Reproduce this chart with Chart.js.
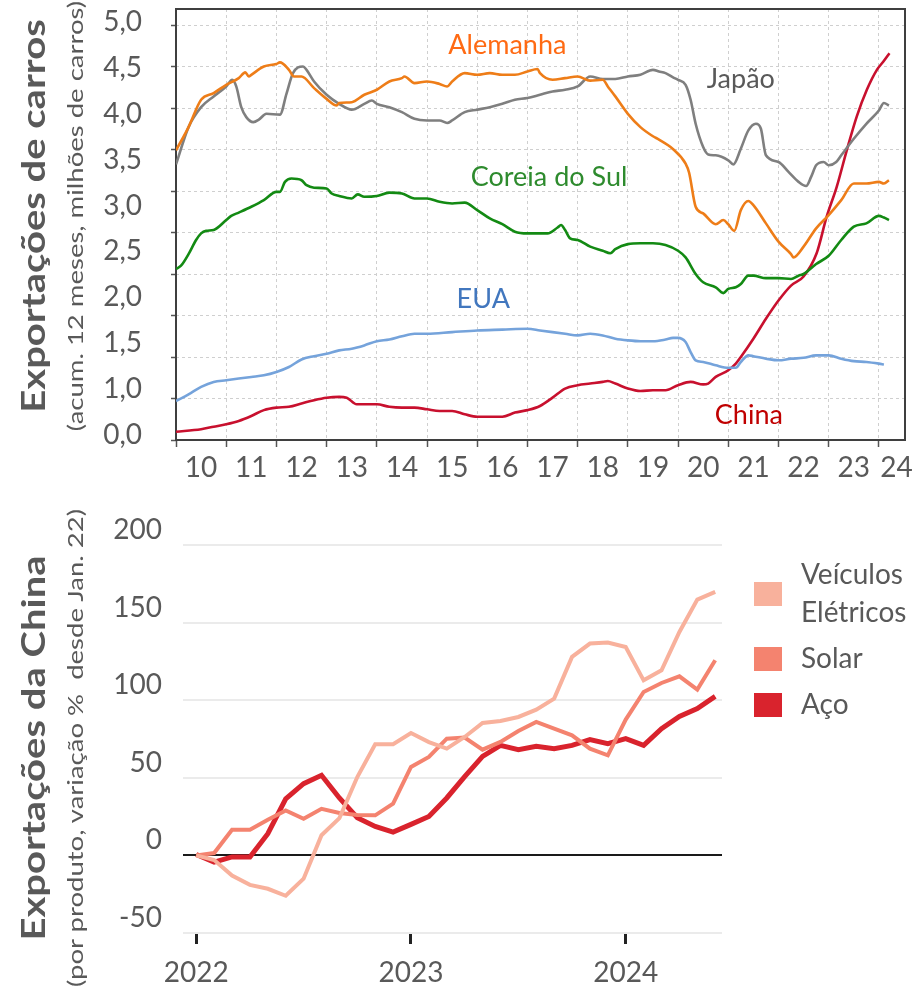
<!DOCTYPE html>
<html>
<head>
<meta charset="utf-8">
<script src="https://cdn.jsdelivr.net/npm/chart.js@4.4.1/dist/chart.umd.min.js"></script>
<style>
  body { margin: 0; background: #fff; }
  #page { position: relative; width: 917px; height: 986px; overflow: hidden; }
  canvas { position: absolute; left: 0; }
  #carros { top: 0; }
  #china { top: 480px; }
  .vtitle { position: absolute; transform: translate(-50%, -50%) rotate(-90deg) scaleX(1.25); white-space: nowrap; color: #595959; font-family: Lato, sans-serif; line-height: 1; }
  .big { font-weight: bold; font-size: 32px; }
  .small { font-size: 22px; }
</style>
</head>
<body>
<div id="page">
  <canvas id="carros" width="917" height="480"></canvas>
  <canvas id="china" width="917" height="506"></canvas>
  <div class="vtitle big" style="left:33px; top:216px">Exportações de carros</div>
  <div class="vtitle small" style="left:75px; top:216px">(acum. 12 meses, milhões de carros)</div>
  <div class="vtitle big" style="left:33px; top:748px">Exportações da China</div>
  <div class="vtitle small" style="left:75px; top:748px">(por produto, variação %&nbsp; desde Jan. 22)</div>
</div>
<script>
// ---- top chart: car exports, 12-month sum, millions ----
const yLabels = ['0,0', '1,0', '1,5', '2,0', '2,5', '3,0', '3,5', '4,0', '4,5', '5,0'];
const xLabels = ['10', '11', '12', '13', '14', '15', '16', '17', '18', '19', '20', '21', '22', '23', '24'];
const countries = ['Alemanha', 'Japão', 'Coreia do Sul', 'EUA', 'China'];

const alemanha = [[2010.0, 3.49], [2010.25, 3.77], [2010.5, 4.10], [2010.75, 4.18], [2011.0, 4.28], [2011.25, 4.36],
  [2011.38, 4.43], [2011.45, 4.38], [2011.5, 4.40], [2011.75, 4.50], [2012.0, 4.53], [2012.07, 4.55], [2012.25, 4.46],
  [2012.35, 4.38], [2012.5, 4.38], [2012.75, 4.24], [2013.0, 4.11], [2013.2, 4.03], [2013.25, 4.06], [2013.5, 4.07],
  [2013.75, 4.16], [2014.0, 4.22], [2014.25, 4.32], [2014.5, 4.36], [2014.55, 4.38], [2014.75, 4.30], [2015.0, 4.32],
  [2015.25, 4.29], [2015.4, 4.26], [2015.5, 4.32], [2015.75, 4.42], [2016.0, 4.40], [2016.25, 4.42], [2016.5, 4.40],
  [2016.75, 4.40], [2017.0, 4.44], [2017.2, 4.47], [2017.25, 4.42], [2017.5, 4.34], [2017.75, 4.36], [2018.0, 4.38],
  [2018.25, 4.33], [2018.5, 4.34], [2018.6, 4.26], [2018.75, 4.14], [2019.0, 3.93], [2019.25, 3.77], [2019.5, 3.66],
  [2019.62, 3.62], [2019.89, 3.51], [2020.15, 3.33], [2020.22, 3.22], [2020.35, 2.81], [2020.5, 2.73], [2020.75, 2.60],
  [2020.9, 2.65], [2021.0, 2.60], [2021.12, 2.52], [2021.25, 2.77], [2021.4, 2.88], [2021.5, 2.83], [2021.75, 2.61],
  [2022.0, 2.39], [2022.25, 2.24], [2022.3, 2.20], [2022.5, 2.33], [2022.75, 2.55], [2023.0, 2.71], [2023.25, 2.89],
  [2023.5, 3.09], [2023.75, 3.09], [2024.0, 3.11], [2024.1, 3.09], [2024.2, 3.13]];

const japao = [[2010.0, 3.32], [2010.25, 3.77], [2010.5, 4.01], [2010.75, 4.14], [2011.0, 4.26], [2011.12, 4.34],
  [2011.2, 4.26], [2011.3, 4.01], [2011.4, 3.89], [2011.54, 3.83], [2011.65, 3.86], [2011.8, 3.93], [2012.07, 3.92],
  [2012.2, 4.17], [2012.33, 4.42], [2012.53, 4.50], [2012.6, 4.46], [2012.75, 4.32], [2013.0, 4.16], [2013.25, 4.05],
  [2013.5, 3.98], [2013.75, 4.05], [2013.9, 4.09], [2014.0, 4.05], [2014.25, 4.01], [2014.5, 3.95], [2014.75, 3.87],
  [2015.0, 3.85], [2015.25, 3.85], [2015.4, 3.82], [2015.5, 3.85], [2015.75, 3.95], [2016.0, 3.98], [2016.25, 4.01],
  [2016.5, 4.05], [2016.75, 4.10], [2017.0, 4.12], [2017.25, 4.16], [2017.5, 4.20], [2017.75, 4.22], [2018.0, 4.26],
  [2018.25, 4.38], [2018.5, 4.35], [2018.75, 4.35], [2019.0, 4.38], [2019.25, 4.40], [2019.5, 4.46], [2019.62, 4.44],
  [2019.75, 4.42], [2019.9, 4.37], [2020.0, 4.34], [2020.15, 4.28], [2020.25, 4.10], [2020.35, 3.81], [2020.5, 3.53],
  [2020.6, 3.44], [2020.75, 3.43], [2021.0, 3.37], [2021.1, 3.32], [2021.25, 3.51], [2021.4, 3.73], [2021.55, 3.81],
  [2021.65, 3.75], [2021.75, 3.43], [2022.0, 3.35], [2022.2, 3.23], [2022.4, 3.11], [2022.55, 3.06], [2022.65, 3.17],
  [2022.75, 3.31], [2022.9, 3.35], [2023.0, 3.31], [2023.15, 3.35], [2023.25, 3.43], [2023.5, 3.63], [2023.75, 3.81],
  [2024.0, 3.97], [2024.1, 4.06], [2024.2, 4.03]];

const coreia = [[2010.0, 2.06], [2010.1, 2.10], [2010.25, 2.24], [2010.4, 2.41], [2010.5, 2.49], [2010.6, 2.52],
  [2010.75, 2.53], [2011.0, 2.65], [2011.1, 2.70], [2011.25, 2.74], [2011.5, 2.81], [2011.75, 2.89], [2012.0, 2.99],
  [2012.07, 2.99], [2012.17, 3.11], [2012.3, 3.15], [2012.5, 3.13], [2012.6, 3.07], [2012.75, 3.04], [2013.0, 3.03],
  [2013.1, 2.97], [2013.25, 2.94], [2013.5, 2.91], [2013.62, 2.96], [2013.75, 2.93], [2014.0, 2.94], [2014.25, 2.98],
  [2014.5, 2.97], [2014.75, 2.91], [2015.0, 2.91], [2015.25, 2.87], [2015.5, 2.85], [2015.75, 2.86], [2016.0, 2.77],
  [2016.25, 2.67], [2016.5, 2.60], [2016.75, 2.51], [2017.0, 2.49], [2017.25, 2.49], [2017.4, 2.49], [2017.6, 2.56],
  [2017.67, 2.59], [2017.75, 2.53], [2017.85, 2.43], [2018.0, 2.41], [2018.25, 2.33], [2018.5, 2.28], [2018.65, 2.25],
  [2018.75, 2.30], [2019.0, 2.36], [2019.25, 2.37], [2019.5, 2.37], [2019.75, 2.35], [2020.0, 2.28], [2020.15, 2.20],
  [2020.35, 2.00], [2020.5, 1.90], [2020.75, 1.84], [2020.9, 1.77], [2021.0, 1.82], [2021.15, 1.84], [2021.25, 1.88],
  [2021.4, 1.98], [2021.5, 1.98], [2021.75, 1.95], [2022.0, 1.95], [2022.25, 1.94], [2022.4, 1.98], [2022.5, 2.00],
  [2022.75, 2.12], [2023.0, 2.22], [2023.25, 2.41], [2023.5, 2.57], [2023.75, 2.61], [2024.0, 2.70], [2024.1, 2.68],
  [2024.2, 2.65]];

const eua = [[2010.0, 0.47], [2010.25, 0.55], [2010.5, 0.64], [2010.75, 0.70], [2011.0, 0.72], [2011.25, 0.74],
  [2011.5, 0.76], [2011.75, 0.78], [2012.0, 0.82], [2012.25, 0.88], [2012.5, 0.97], [2012.75, 1.01], [2013.0, 1.04],
  [2013.25, 1.08], [2013.5, 1.10], [2013.75, 1.14], [2014.0, 1.19], [2014.25, 1.21], [2014.5, 1.25], [2014.75, 1.28],
  [2015.0, 1.28], [2015.5, 1.30], [2016.0, 1.32], [2016.5, 1.33], [2017.0, 1.34], [2017.25, 1.32], [2017.5, 1.30],
  [2017.75, 1.28], [2018.0, 1.26], [2018.25, 1.28], [2018.5, 1.26], [2018.75, 1.22], [2019.0, 1.20], [2019.25, 1.19],
  [2019.5, 1.19], [2019.75, 1.21], [2019.9, 1.23], [2020.0, 1.23], [2020.15, 1.18], [2020.25, 1.06], [2020.35, 0.96],
  [2020.5, 0.94], [2020.75, 0.90], [2021.0, 0.87], [2021.15, 0.87], [2021.25, 0.94], [2021.4, 1.02], [2021.5, 1.01],
  [2021.75, 0.98], [2022.0, 0.96], [2022.25, 0.98], [2022.5, 0.99], [2022.75, 1.02], [2023.0, 1.02], [2023.25, 0.98],
  [2023.5, 0.95], [2023.75, 0.94], [2024.0, 0.92], [2024.1, 0.91]];

const china = [[2010.0, 0.10], [2010.5, 0.13], [2010.75, 0.16], [2011.0, 0.19], [2011.25, 0.23], [2011.5, 0.29],
  [2011.75, 0.36], [2012.0, 0.39], [2012.25, 0.40], [2012.5, 0.44], [2012.75, 0.48], [2013.0, 0.51], [2013.25, 0.52],
  [2013.4, 0.51], [2013.6, 0.43], [2013.75, 0.43], [2014.0, 0.43], [2014.25, 0.40], [2014.5, 0.39], [2014.75, 0.39],
  [2015.0, 0.37], [2015.25, 0.35], [2015.5, 0.35], [2015.75, 0.31], [2016.0, 0.28], [2016.25, 0.28], [2016.5, 0.28],
  [2016.75, 0.33], [2017.0, 0.36], [2017.25, 0.41], [2017.5, 0.51], [2017.75, 0.62], [2018.0, 0.66], [2018.25, 0.68],
  [2018.5, 0.70], [2018.6, 0.71], [2018.75, 0.68], [2019.0, 0.62], [2019.25, 0.59], [2019.5, 0.60], [2019.75, 0.60],
  [2020.0, 0.66], [2020.25, 0.70], [2020.5, 0.67], [2020.6, 0.68], [2020.75, 0.76], [2021.0, 0.84], [2021.15, 0.92],
  [2021.25, 1.00], [2021.5, 1.22], [2021.75, 1.46], [2022.0, 1.68], [2022.25, 1.86], [2022.5, 1.97], [2022.76, 2.25],
  [2022.96, 2.69], [2023.16, 3.05], [2023.36, 3.49], [2023.56, 3.90], [2023.76, 4.22], [2023.96, 4.46], [2024.09, 4.56],
  [2024.21, 4.66]];

// ---- bottom chart: China exports by product, % change since Jan 22 (monthly from Jan 22) ----
const yearLabels = ['2022', '2023', '2024'];
const products = ['Veículos Elétricos', 'Solar', 'Aço'];
const veiculos = [0, -3, -13, -19, -21.5, -26, -15, 13, 24, 50.5, 71.6, 71.6, 78.9, 73, 68.8,
  76.3, 85.3, 86.6, 89.2, 93.9, 101, 127.9, 136.5, 137.1, 134.3, 112.8, 119.3, 144, 164.8, 169.8];
const solar = [0, 1.5, 16.5, 16.5, 23, 29, 23.6, 30, 27.3, 26, 25.8, 33.3, 57, 63.4, 75.2,
  75.9, 68.1, 73.1, 80.2, 86, 81.7, 77.4, 68.8, 64.5, 87.5, 105.3, 111.1, 115.4, 106.8, 125.7];
const aco = [0.6, -4.3, -1, -1, 14, 36.5, 46.2, 51.6, 37, 24.3, 18.7, 15, 20, 25.1, 37,
  50.7, 63.8, 70.9, 68.1, 70.3, 68.8, 70.9, 74.6, 72, 75.2, 70.9, 81.7, 89.6, 94.6, 102.5];

Chart.defaults.font.family = 'Lato, sans-serif';
Chart.defaults.color = '#595959';

const toPoints = arr => arr.map(p => ({ x: p[0], y: p[1] }));
// stop chart.js from reserving room for half-labels at the axis ends
const noEdgePad = s => { s.paddingTop = 0; s.paddingBottom = 0; s.paddingLeft = 0; s.paddingRight = 0; };

const lineColors = ['#EE7D18', '#7F7F7F', '#138A13', '#75A3DB', '#C8102E'];
const tagColors = ['#FF6A13', '#595959', '#2E8B2E', '#4277BE', '#C00000'];
// where each name sits, in data units (year, millions)
const tagSpots = [[2016.6, 4.76], [2021.25, 4.34], [2017.43, 3.17], [2016.12, 1.70], [2021.41, 0.30]];

const frame = {
  id: 'frame',
  beforeDatasetsDraw(chart) {
    const a = chart.chartArea, ctx = chart.ctx;
    ctx.save();
    ctx.strokeStyle = '#3f3f3f';
    ctx.lineWidth = 2;
    ctx.strokeRect(a.left, a.top, a.right - a.left, a.bottom - a.top);
    ctx.restore();
  }
};

const seriesTags = {
  id: 'seriesTags',
  afterDatasetsDraw(chart) {
    const ctx = chart.ctx, x = chart.scales.x, y = chart.scales.y;
    ctx.save();
    ctx.font = '27px Lato';
    ctx.textAlign = 'center';
    ctx.textBaseline = 'middle';
    chart.data.datasets.forEach((ds, i) => {
      ctx.fillStyle = tagColors[i];
      ctx.fillText(ds.label, x.getPixelForValue(tagSpots[i][0]), y.getPixelForValue(tagSpots[i][1]));
    });
    ctx.restore();
  }
};

const series = [alemanha, japao, coreia, eua, china];

new Chart(document.getElementById('carros'), {
  type: 'line',
  data: {
    datasets: series.map((s, i) => ({
      label: countries[i],
      data: toPoints(s),
      borderColor: lineColors[i],
      borderWidth: 2.6,
      pointRadius: 0,
      cubicInterpolationMode: 'monotone'
    }))
  },
  options: {
    responsive: false,
    animation: false,
    layout: { padding: { top: 9, right: 12, left: 0, bottom: 0 } },
    plugins: { legend: { display: false }, tooltip: { enabled: false } },
    scales: {
      x: {
        type: 'linear', position: 'bottom', weight: 0,
        min: 2010, max: 2024.52,
        grid: { color: '#cfcfcf', lineWidth: 1, tickLength: 7, tickColor: '#555', tickWidth: 1.5, tickBorderDash: [] },
        border: { display: false, dash: [3, 3] },
        ticks: { display: false, stepSize: 1, includeBounds: false },
        afterFit(s) { s.height = 7; noEdgePad(s); }
      },
      xl: {
        type: 'linear', position: 'bottom', weight: 1,
        min: 2010, max: 2024.52,
        grid: { display: false },
        border: { display: false },
        afterBuildTicks(s) {
          s.ticks = xLabels.map((_, i) => ({ value: Math.min(2010.5 + i, 2024.35) }));
        },
        ticks: {
          autoSkip: false, maxRotation: 0, padding: -4,
          font: { size: 28 }, color: '#595959',
          callback: (v, i) => xLabels[i]
        },
        afterFit(s) { s.height = 33; noEdgePad(s); }
      },
      y: {
        type: 'linear', position: 'left', weight: 0,
        min: 0, max: 5.193,
        grid: { color: '#cfcfcf', lineWidth: 1, tickLength: 5, tickColor: '#555', tickWidth: 1.5, tickBorderDash: [] },
        border: { display: false, dash: [3, 3] },
        ticks: { display: false, stepSize: 0.5, includeBounds: false },
        afterFit(s) { s.width = 0; noEdgePad(s); }
      },
      yl: {
        type: 'linear', position: 'left', weight: 1,
        min: -0.109, max: 9.283,
        grid: { display: false },
        border: { display: false },
        afterBuildTicks(s) {
          s.ticks = yLabels.map((_, i) => ({ value: i }));
        },
        ticks: {
          autoSkip: false, padding: 26,
          font: { size: 28 }, color: '#595959',
          callback: (v, i) => yLabels[i]
        },
        afterFit(s) { s.width = 176; noEdgePad(s); }
      }
    }
  },
  plugins: [frame, seriesTags]
});

// ---- bottom chart ----
const productColors = ['#F8B19C', '#F4836F', '#D9232D'];
const productWidths = [4, 4, 5];

const sideLegend = {
  id: 'sideLegend',
  afterDraw(chart) {
    const ctx = chart.ctx, a = chart.chartArea;
    const lineH = 38, gap = 8, boxW = 28, boxH = 24;
    const boxX = a.right + 32, textX = boxX + 47;
    ctx.save();
    ctx.font = '28px Lato';
    ctx.textBaseline = 'middle';
    ctx.textAlign = 'left';
    let top = 76;
    chart.data.datasets.forEach(ds => {
      // wrap long names word by word
      const words = ds.label.split(' ');
      const lines = [];
      words.forEach(w => {
        const last = lines[lines.length - 1];
        if (last && ctx.measureText(last + ' ' + w).width < 115) lines[lines.length - 1] = last + ' ' + w;
        else lines.push(w);
      });
      const h = lines.length * lineH;
      const mid = top + h / 2;
      ctx.fillStyle = ds.borderColor;
      ctx.fillRect(boxX, mid - boxH / 2, boxW, boxH);
      ctx.fillStyle = '#595959';
      lines.forEach((t, k) => ctx.fillText(t, textX, top + lineH / 2 + k * lineH));
      top += h + gap;
    });
    ctx.restore();
  }
};

const monthIdx = veiculos.map((_, i) => i);

new Chart(document.getElementById('china'), {
  type: 'line',
  data: {
    datasets: [veiculos, solar, aco].map((s, i) => ({
      label: products[i],
      data: s.map((v, k) => ({ x: monthIdx[k], y: v })),
      borderColor: productColors[i],
      borderWidth: productWidths[i],
      pointRadius: 0,
      tension: 0
    }))
  },
  options: {
    responsive: false,
    animation: false,
    layout: { padding: { top: 65, right: 195, left: 0, bottom: 0 } },
    plugins: { legend: { display: false }, tooltip: { enabled: false } },
    scales: {
      x: {
        type: 'linear', position: 'bottom',
        min: -0.74, max: 29.38,
        grid: { drawOnChartArea: false, drawTicks: true, tickLength: 11, tickColor: '#222', tickWidth: 3 },
        border: { display: false },
        afterBuildTicks(s) {
          s.ticks = yearLabels.map((_, i) => ({ value: i * 12 }));
        },
        ticks: {
          autoSkip: false, maxRotation: 0, padding: 12,
          font: { size: 28 }, color: '#595959',
          callback: (v, i) => yearLabels[i]
        },
        afterFit(s) { s.height = 53; noEdgePad(s); }
      },
      y: {
        type: 'linear', position: 'left',
        min: -50, max: 200,
        grid: {
          drawTicks: false,
          color: c => (c.tick && c.tick.value === 0 ? '#1a1a1a' : '#ebebeb'),
          lineWidth: 2
        },
        border: { display: false },
        ticks: { stepSize: 50, padding: 21, labelOffset: -15, font: { size: 28 }, color: '#595959' },
        afterFit(s) { s.width = 183; noEdgePad(s); }
      }
    }
  },
  plugins: [sideLegend]
});
</script>
</body>
</html>
